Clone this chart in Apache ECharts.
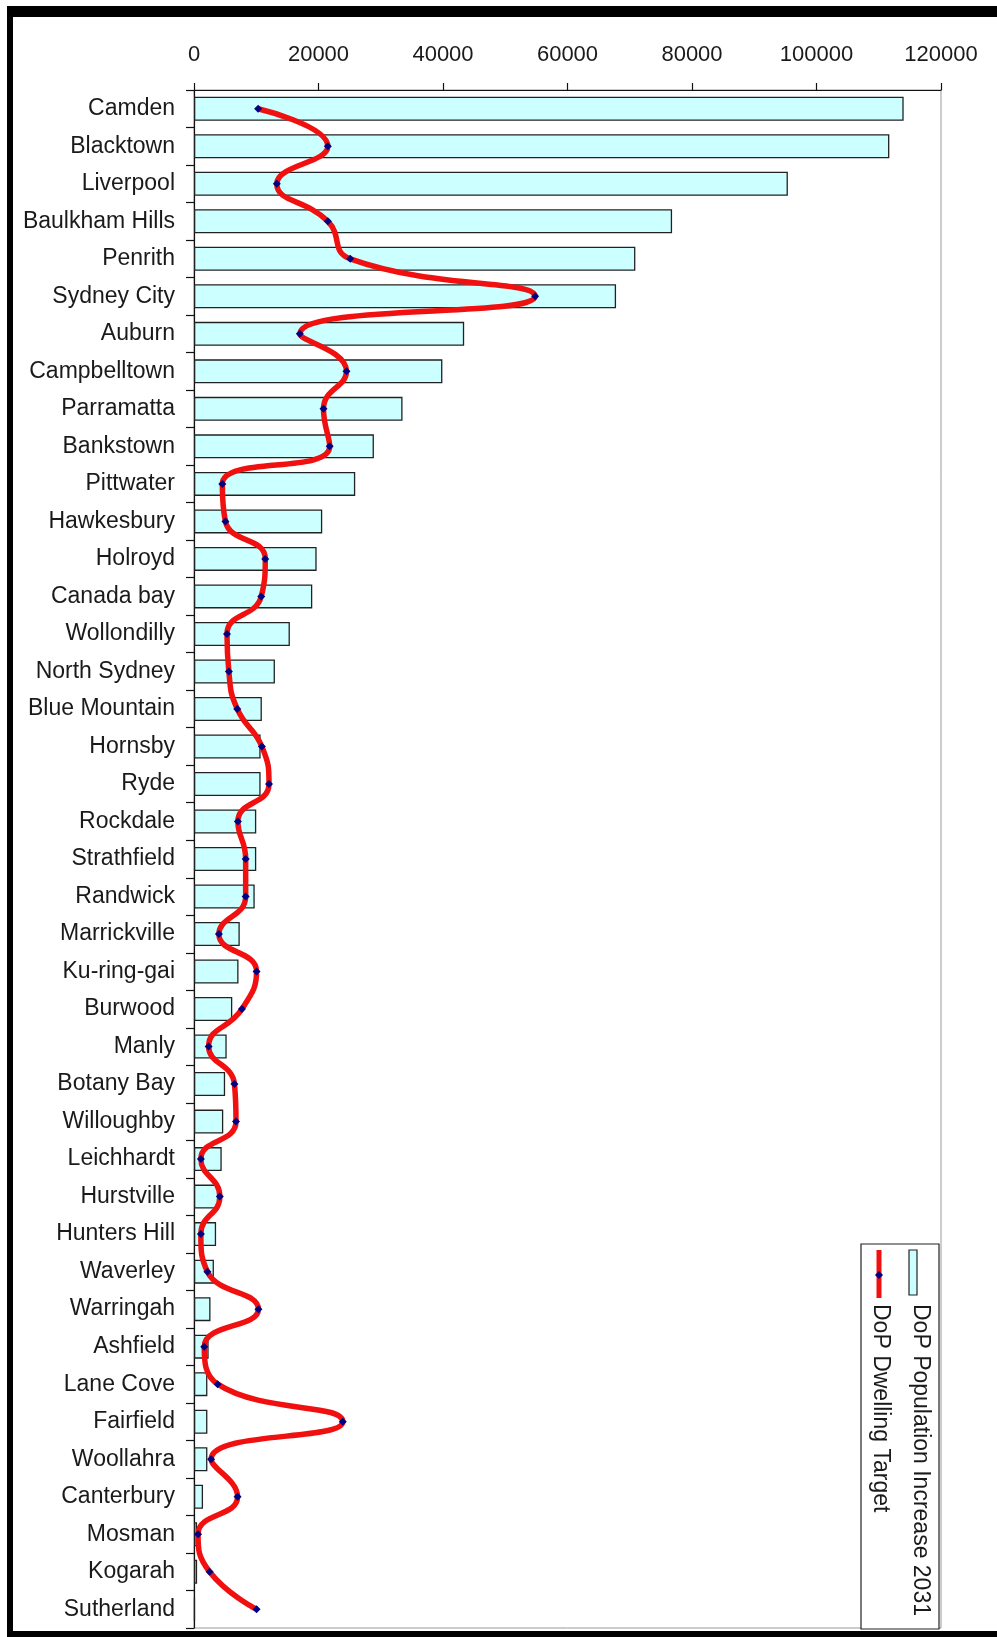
<!DOCTYPE html>
<html>
<head>
<meta charset="utf-8">
<title>DoP Population Increase 2031</title>
<script src="https://cdn.jsdelivr.net/npm/echarts@6.0.0/dist/echarts.min.js"></script>
<style>
  html, body { margin: 0; padding: 0; background: #fff; }
  #chart { width: 997px; height: 1637px; }
</style>
</head>
<body>
<div id="chart"></div>
<script>

// categories (top to bottom)
var councils = ['Camden', 'Blacktown', 'Liverpool', 'Baulkham Hills', 'Penrith', 'Sydney City', 'Auburn',
    'Campbelltown', 'Parramatta', 'Bankstown', 'Pittwater', 'Hawkesbury', 'Holroyd', 'Canada bay',
    'Wollondilly', 'North Sydney', 'Blue Mountain', 'Hornsby', 'Ryde', 'Rockdale', 'Strathfield',
    'Randwick', 'Marrickville', 'Ku-ring-gai', 'Burwood', 'Manly', 'Botany Bay', 'Willoughby',
    'Leichhardt', 'Hurstville', 'Hunters Hill', 'Waverley', 'Warringah', 'Ashfield', 'Lane Cove',
    'Fairfield', 'Woollahra', 'Canterbury', 'Mosman', 'Kogarah', 'Sutherland'];

// bars
var popIncrease = [114000, 111700, 95400, 76800, 70900, 67800, 43400,
    39900, 33500, 28900, 25900, 20600, 19700, 19000,
    15400, 13000, 10900, 10700, 10700, 10000, 10000,
    9750, 7350, 7150, 6150, 5250, 5000, 4700,
    4450, 3900, 3550, 3200, 2650, 2350, 2150,
    2150, 2150, 1450, 500, 500, 150];

// line
var dwellingTarget = [10300, 21500, 13300, 21500, 25100, 54800, 17000,
    24500, 20800, 21800, 4550, 5050, 11450, 10800,
    5300, 5600, 6950, 10900, 12050, 7050, 8300,
    8300, 4000, 10050, 7700, 2350, 6500, 6750,
    1100, 4150, 1100, 2150, 10350, 1650, 3800,
    23900, 2750, 7000, 650, 2500, 10050];

// x axis ticks
var xTicks = [0, 20000, 40000, 60000, 80000, 100000, 120000];

var seriesNames = ['DoP Population Increase 2031', 'DoP Dwelling Target'];

(function() {

    var font = 'Liberation Sans, Arial, sans-serif';

    // legend drawn by hand, text reads top to bottom
    var legend = [
        { type: 'rect', shape: { x: 861, y: 1244, width: 78, height: 385 },
          style: { fill: '#fff', stroke: '#222', lineWidth: 1.2 }, z: 10 },
        { type: 'rect', shape: { x: 909, y: 1250, width: 8, height: 45 },
          style: { fill: '#ccffff', stroke: '#222', lineWidth: 1.2 }, z: 11 },
        { type: 'text', x: 920, y: 1304, rotation: -Math.PI / 2, z: 11,
          style: { text: seriesNames[0], font: '23px ' + font, fill: '#1a1a1a', textAlign: 'left', textVerticalAlign: 'middle' } },
        { type: 'line', shape: { x1: 879, y1: 1250, x2: 879, y2: 1298 },
          style: { stroke: '#f01010', lineWidth: 5 }, z: 11 },
        { type: 'polygon', shape: { points: [[879, 1271], [883, 1275], [879, 1279], [875, 1275]] },
          style: { fill: '#000080' }, z: 12 },
        { type: 'text', x: 880, y: 1304, rotation: -Math.PI / 2, z: 11,
          style: { text: seriesNames[1], font: '23px ' + font, fill: '#1a1a1a', textAlign: 'left', textVerticalAlign: 'middle' } }
    ];

    // black frame
    var frame = [
        { type: 'rect', shape: { x: 7, y: 6, width: 990, height: 11 }, style: { fill: '#000' } },
        { type: 'rect', shape: { x: 7, y: 6, width: 6, height: 1631 }, style: { fill: '#000' } },
        { type: 'rect', shape: { x: 7, y: 1631, width: 990, height: 6 }, style: { fill: '#000' } }
    ];

    var chart = echarts.init(document.getElementById('chart'), null, { renderer: 'canvas' });

    chart.setOption({
        animation: false,
        backgroundColor: '#fff',
        grid: {
            left: 194, right: 56, top: 90, bottom: 9,
            show: true, borderColor: '#999', borderWidth: 1, backgroundColor: '#fff',
            containLabel: false, outerBoundsMode: 'none'
        },
        xAxis: {
            type: 'value', position: 'top',
            min: xTicks[0], max: xTicks[xTicks.length - 1], interval: xTicks[1] - xTicks[0],
            axisLine: { show: true, lineStyle: { color: '#111', width: 1.2 } },
            axisTick: { show: true, length: 7, lineStyle: { color: '#111', width: 1.2 } },
            axisLabel: { margin: 24, color: '#1a1a1a', fontSize: 22, fontFamily: font,
                formatter: function(v) { return String(v); } },
            splitLine: { show: false }
        },
        yAxis: {
            type: 'category', inverse: true, data: councils,
            axisLine: { show: true, lineStyle: { color: '#111', width: 1.2 } },
            axisTick: { show: true, length: 8, lineStyle: { color: '#111', width: 1.2 } },
            axisLabel: { margin: 19, color: '#1a1a1a', fontSize: 23, fontFamily: font, interval: 0 },
            splitLine: { show: false }
        },
        series: [{
            name: seriesNames[0], type: 'bar', data: popIncrease, barWidth: 24,
            itemStyle: { color: '#ccffff', borderColor: '#222', borderWidth: 1.3 }
        }, {
            name: seriesNames[1], type: 'line', data: dwellingTarget, smooth: 0.5,
            symbol: 'diamond', symbolSize: 8, z: 5,
            lineStyle: { color: '#f01010', width: 5.5 },
            itemStyle: { color: '#000080' }
        }],
        graphic: frame.concat(legend)
    });

}());

</script>
</body>
</html>
